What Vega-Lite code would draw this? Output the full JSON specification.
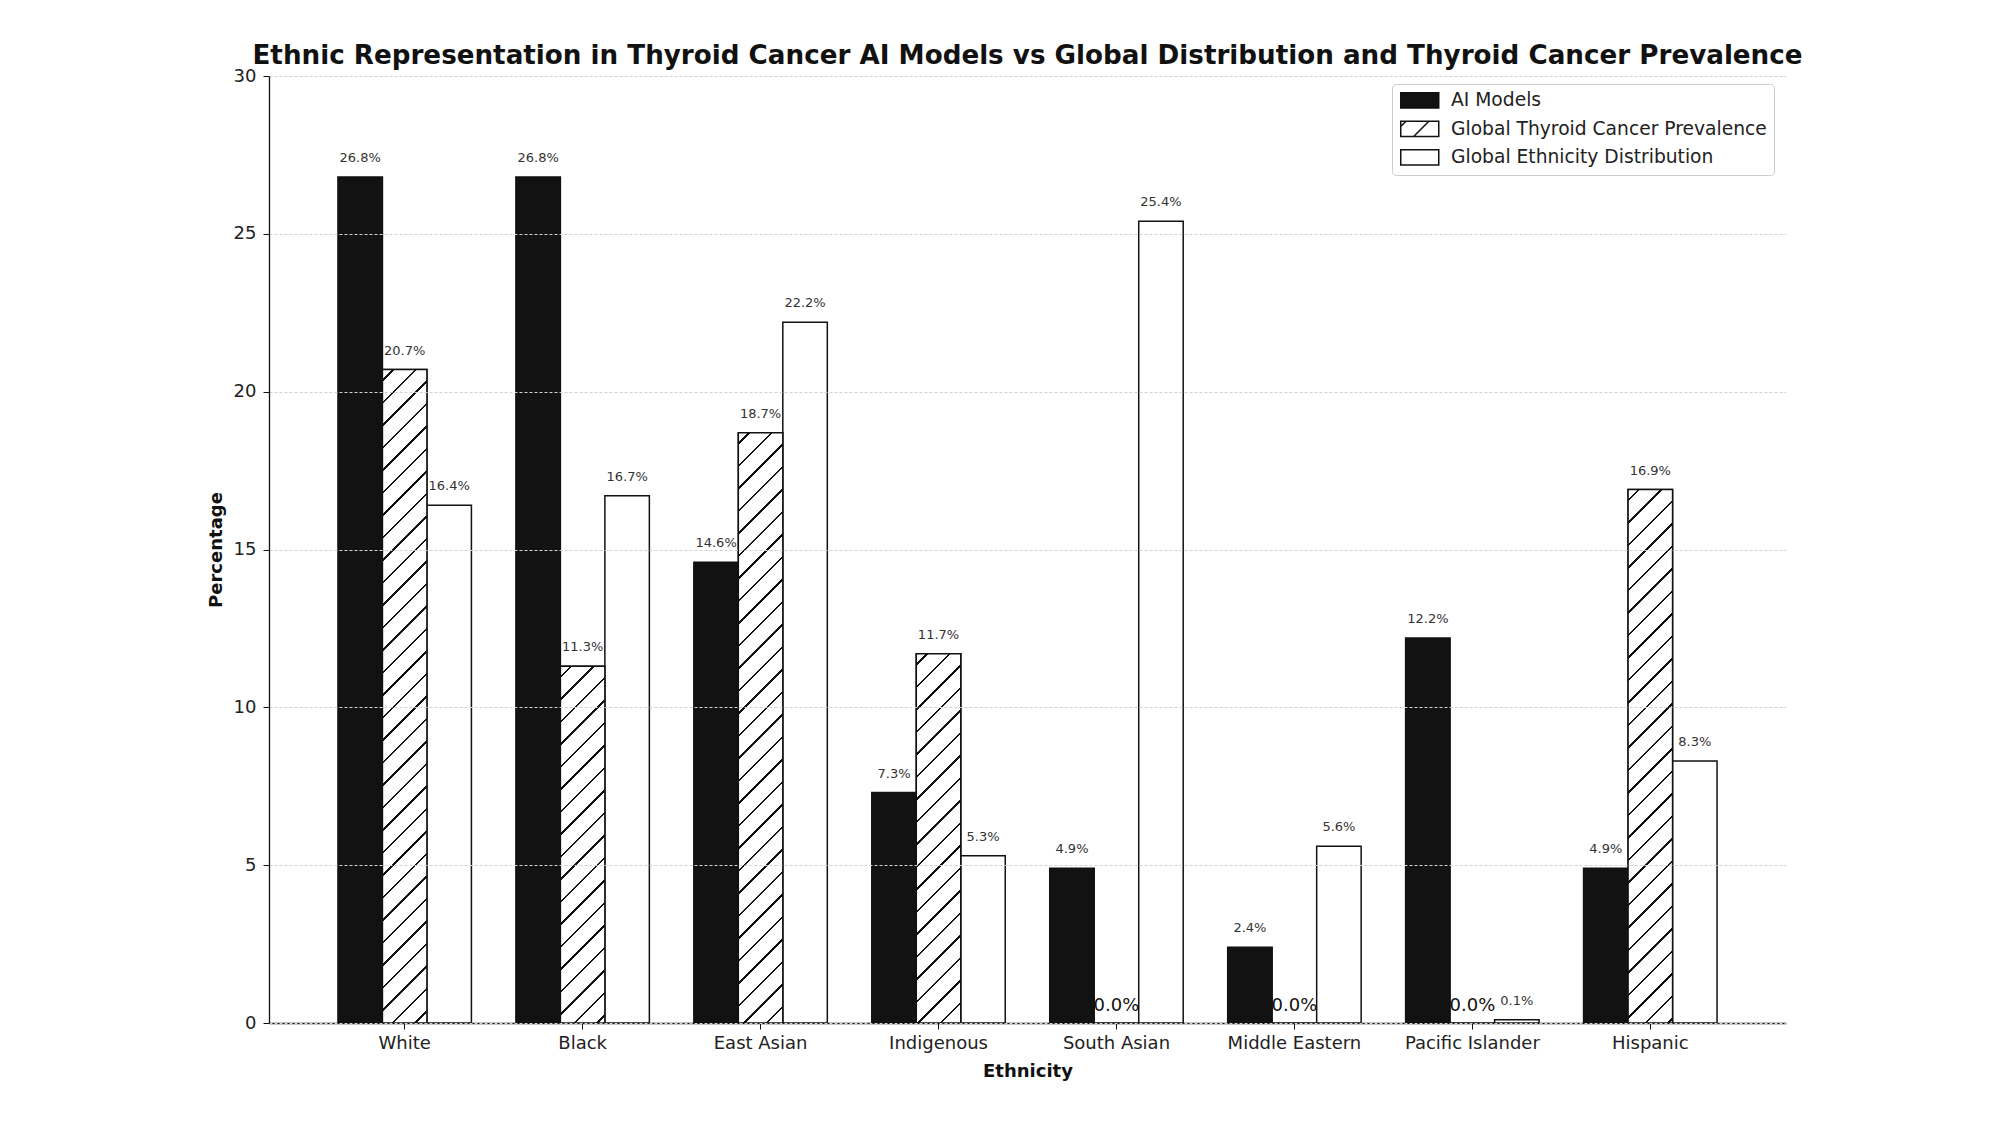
{
  "$schema": "https://vega.github.io/schema/vega-lite/v6.json",
  "width": 1517,
  "height": 947,
  "autosize": {"type": "none"},
  "padding": {"left": 269, "top": 76, "right": 222, "bottom": 100},
  "background": "white",
  "config": {
    "view": {"stroke": null},
    "font": "DejaVu Sans"
  },
  "title": {
    "text": "Ethnic Representation in Thyroid Cancer AI Models vs Global Distribution and Thyroid Cancer Prevalence",
    "fontSize": 26.2,
    "fontWeight": "bold",
    "color": "#111111",
    "anchor": "middle",
    "baseline": "alphabetic",
    "offset": 12,
    "dy": 35
  },
  "params": [
    {
      "name": "hatchStops",
      "value": [
        {"offset": 0, "color": "#ffffff"},
        {"offset": 0.013611, "color": "#ffffff"}, {"offset": 0.013611, "color": "#111111"}, {"offset": 0.016944, "color": "#111111"}, {"offset": 0.016944, "color": "#ffffff"},
        {"offset": 0.044861, "color": "#ffffff"}, {"offset": 0.044861, "color": "#111111"}, {"offset": 0.048194, "color": "#111111"}, {"offset": 0.048194, "color": "#ffffff"},
        {"offset": 0.076111, "color": "#ffffff"}, {"offset": 0.076111, "color": "#111111"}, {"offset": 0.079444, "color": "#111111"}, {"offset": 0.079444, "color": "#ffffff"},
        {"offset": 0.107361, "color": "#ffffff"}, {"offset": 0.107361, "color": "#111111"}, {"offset": 0.110694, "color": "#111111"}, {"offset": 0.110694, "color": "#ffffff"},
        {"offset": 0.138611, "color": "#ffffff"}, {"offset": 0.138611, "color": "#111111"}, {"offset": 0.141944, "color": "#111111"}, {"offset": 0.141944, "color": "#ffffff"},
        {"offset": 0.169861, "color": "#ffffff"}, {"offset": 0.169861, "color": "#111111"}, {"offset": 0.173194, "color": "#111111"}, {"offset": 0.173194, "color": "#ffffff"},
        {"offset": 0.201111, "color": "#ffffff"}, {"offset": 0.201111, "color": "#111111"}, {"offset": 0.204444, "color": "#111111"}, {"offset": 0.204444, "color": "#ffffff"},
        {"offset": 0.232361, "color": "#ffffff"}, {"offset": 0.232361, "color": "#111111"}, {"offset": 0.235694, "color": "#111111"}, {"offset": 0.235694, "color": "#ffffff"},
        {"offset": 0.263611, "color": "#ffffff"}, {"offset": 0.263611, "color": "#111111"}, {"offset": 0.266944, "color": "#111111"}, {"offset": 0.266944, "color": "#ffffff"},
        {"offset": 0.294861, "color": "#ffffff"}, {"offset": 0.294861, "color": "#111111"}, {"offset": 0.298194, "color": "#111111"}, {"offset": 0.298194, "color": "#ffffff"},
        {"offset": 0.326111, "color": "#ffffff"}, {"offset": 0.326111, "color": "#111111"}, {"offset": 0.329444, "color": "#111111"}, {"offset": 0.329444, "color": "#ffffff"},
        {"offset": 0.357361, "color": "#ffffff"}, {"offset": 0.357361, "color": "#111111"}, {"offset": 0.360694, "color": "#111111"}, {"offset": 0.360694, "color": "#ffffff"},
        {"offset": 0.388611, "color": "#ffffff"}, {"offset": 0.388611, "color": "#111111"}, {"offset": 0.391944, "color": "#111111"}, {"offset": 0.391944, "color": "#ffffff"},
        {"offset": 0.419861, "color": "#ffffff"}, {"offset": 0.419861, "color": "#111111"}, {"offset": 0.423194, "color": "#111111"}, {"offset": 0.423194, "color": "#ffffff"},
        {"offset": 0.451111, "color": "#ffffff"}, {"offset": 0.451111, "color": "#111111"}, {"offset": 0.454444, "color": "#111111"}, {"offset": 0.454444, "color": "#ffffff"},
        {"offset": 0.482361, "color": "#ffffff"}, {"offset": 0.482361, "color": "#111111"}, {"offset": 0.485694, "color": "#111111"}, {"offset": 0.485694, "color": "#ffffff"},
        {"offset": 0.513611, "color": "#ffffff"}, {"offset": 0.513611, "color": "#111111"}, {"offset": 0.516944, "color": "#111111"}, {"offset": 0.516944, "color": "#ffffff"},
        {"offset": 0.544861, "color": "#ffffff"}, {"offset": 0.544861, "color": "#111111"}, {"offset": 0.548194, "color": "#111111"}, {"offset": 0.548194, "color": "#ffffff"},
        {"offset": 0.576111, "color": "#ffffff"}, {"offset": 0.576111, "color": "#111111"}, {"offset": 0.579444, "color": "#111111"}, {"offset": 0.579444, "color": "#ffffff"},
        {"offset": 0.607361, "color": "#ffffff"}, {"offset": 0.607361, "color": "#111111"}, {"offset": 0.610694, "color": "#111111"}, {"offset": 0.610694, "color": "#ffffff"},
        {"offset": 0.638611, "color": "#ffffff"}, {"offset": 0.638611, "color": "#111111"}, {"offset": 0.641944, "color": "#111111"}, {"offset": 0.641944, "color": "#ffffff"},
        {"offset": 0.669861, "color": "#ffffff"}, {"offset": 0.669861, "color": "#111111"}, {"offset": 0.673194, "color": "#111111"}, {"offset": 0.673194, "color": "#ffffff"},
        {"offset": 0.701111, "color": "#ffffff"}, {"offset": 0.701111, "color": "#111111"}, {"offset": 0.704444, "color": "#111111"}, {"offset": 0.704444, "color": "#ffffff"},
        {"offset": 0.732361, "color": "#ffffff"}, {"offset": 0.732361, "color": "#111111"}, {"offset": 0.735694, "color": "#111111"}, {"offset": 0.735694, "color": "#ffffff"},
        {"offset": 0.763611, "color": "#ffffff"}, {"offset": 0.763611, "color": "#111111"}, {"offset": 0.766944, "color": "#111111"}, {"offset": 0.766944, "color": "#ffffff"},
        {"offset": 0.794861, "color": "#ffffff"}, {"offset": 0.794861, "color": "#111111"}, {"offset": 0.798194, "color": "#111111"}, {"offset": 0.798194, "color": "#ffffff"},
        {"offset": 0.826111, "color": "#ffffff"}, {"offset": 0.826111, "color": "#111111"}, {"offset": 0.829444, "color": "#111111"}, {"offset": 0.829444, "color": "#ffffff"},
        {"offset": 0.857361, "color": "#ffffff"}, {"offset": 0.857361, "color": "#111111"}, {"offset": 0.860694, "color": "#111111"}, {"offset": 0.860694, "color": "#ffffff"},
        {"offset": 0.888611, "color": "#ffffff"}, {"offset": 0.888611, "color": "#111111"}, {"offset": 0.891944, "color": "#111111"}, {"offset": 0.891944, "color": "#ffffff"},
        {"offset": 0.919861, "color": "#ffffff"}, {"offset": 0.919861, "color": "#111111"}, {"offset": 0.923194, "color": "#111111"}, {"offset": 0.923194, "color": "#ffffff"},
        {"offset": 0.951111, "color": "#ffffff"}, {"offset": 0.951111, "color": "#111111"}, {"offset": 0.954444, "color": "#111111"}, {"offset": 0.954444, "color": "#ffffff"},
        {"offset": 0.982361, "color": "#ffffff"}, {"offset": 0.982361, "color": "#111111"}, {"offset": 0.985694, "color": "#111111"}, {"offset": 0.985694, "color": "#ffffff"},
        {"offset": 1, "color": "#ffffff"}
      ]
    }
  ],
  "data": {
    "values": [
      {"ethnicity": "White", "group": "AI Models", "value": 26.8},
      {"ethnicity": "White", "group": "Global Thyroid Cancer Prevalence", "value": 20.7},
      {"ethnicity": "White", "group": "Global Ethnicity Distribution", "value": 16.4},
      {"ethnicity": "Black", "group": "AI Models", "value": 26.8},
      {"ethnicity": "Black", "group": "Global Thyroid Cancer Prevalence", "value": 11.3},
      {"ethnicity": "Black", "group": "Global Ethnicity Distribution", "value": 16.7},
      {"ethnicity": "East Asian", "group": "AI Models", "value": 14.6},
      {"ethnicity": "East Asian", "group": "Global Thyroid Cancer Prevalence", "value": 18.7},
      {"ethnicity": "East Asian", "group": "Global Ethnicity Distribution", "value": 22.2},
      {"ethnicity": "Indigenous", "group": "AI Models", "value": 7.3},
      {"ethnicity": "Indigenous", "group": "Global Thyroid Cancer Prevalence", "value": 11.7},
      {"ethnicity": "Indigenous", "group": "Global Ethnicity Distribution", "value": 5.3},
      {"ethnicity": "South Asian", "group": "AI Models", "value": 4.9},
      {"ethnicity": "South Asian", "group": "Global Thyroid Cancer Prevalence", "value": 0.0},
      {"ethnicity": "South Asian", "group": "Global Ethnicity Distribution", "value": 25.4},
      {"ethnicity": "Middle Eastern", "group": "AI Models", "value": 2.4},
      {"ethnicity": "Middle Eastern", "group": "Global Thyroid Cancer Prevalence", "value": 0.0},
      {"ethnicity": "Middle Eastern", "group": "Global Ethnicity Distribution", "value": 5.6},
      {"ethnicity": "Pacific Islander", "group": "AI Models", "value": 12.2},
      {"ethnicity": "Pacific Islander", "group": "Global Thyroid Cancer Prevalence", "value": 0.0},
      {"ethnicity": "Pacific Islander", "group": "Global Ethnicity Distribution", "value": 0.1},
      {"ethnicity": "Hispanic", "group": "AI Models", "value": 4.9},
      {"ethnicity": "Hispanic", "group": "Global Thyroid Cancer Prevalence", "value": 16.9},
      {"ethnicity": "Hispanic", "group": "Global Ethnicity Distribution", "value": 8.3}
    ]
  },
  "encoding": {
    "x": {
      "field": "ethnicity",
      "type": "nominal",
      "sort": null,
      "scale": {
        "domain": ["White", "Black", "East Asian", "Indigenous", "South Asian", "Middle Eastern", "Pacific Islander", "Hispanic"],
        "paddingInner": 0.25,
        "paddingOuter": 0.3875
      },
      "axis": {
        "title": "Ethnicity",
        "titleFontSize": 18,
        "titleFontWeight": "bold",
        "titleColor": "#111111",
        "titlePadding": 10,
        "labelAngle": 0,
        "labelFontSize": 18,
        "labelColor": "#222222",
        "labelPadding": 5,
        "tickSize": 6,
        "tickColor": "#111111",
        "domainColor": "#111111",
        "domainWidth": 1.3,
        "grid": false
      }
    },
    "xOffset": {
      "field": "group",
      "type": "nominal",
      "scale": {
        "domain": ["AI Models", "Global Thyroid Cancer Prevalence", "Global Ethnicity Distribution"],
        "paddingInner": 0,
        "paddingOuter": 0
      }
    },
    "y": {
      "field": "value",
      "type": "quantitative",
      "scale": {"domain": [0, 30], "nice": false},
      "axis": {
        "title": "Percentage",
        "titleFontSize": 18,
        "titleFontWeight": "bold",
        "titleColor": "#111111",
        "titlePadding": 8,
        "values": [0, 5, 10, 15, 20, 25, 30],
        "labelFontSize": 18,
        "labelColor": "#222222",
        "labelPadding": 7,
        "tickSize": 6,
        "tickColor": "#111111",
        "domainColor": "#111111",
        "domainWidth": 1.3,
        "grid": true,
        "gridColor": "#d0d0d0",
        "gridDash": [3, 2],
        "gridWidth": 1,
        "zindex": 1
      }
    }
  },
  "layer": [
    {
      "mark": {"type": "bar", "stroke": "#111111", "strokeWidth": 1.5},
      "encoding": {
        "color": {
          "field": "group",
          "type": "nominal",
          "scale": {
            "domain": ["AI Models", "Global Thyroid Cancer Prevalence", "Global Ethnicity Distribution"],
            "range": ["#121212", "#ffffff", "#ffffff"]
          },
          "legend": {
            "title": null,
            "orient": "none",
            "legendX": 1123,
            "legendY": 8,
            "padding": 7,
            "rowPadding": 6.5,
            "labelFontSize": 18.7,
            "labelColor": "#222222",
            "labelLimit": 500,
            "labelOffset": 33.3,
            "symbolType": "M-1,-1H4V1H-1Z",
            "symbolSize": 231,
            "symbolStrokeColor": "#111111",
            "symbolStrokeWidth": 1.5,
            "strokeColor": "#cccccc",
            "fillColor": "#ffffff",
            "cornerRadius": 4,
            "encode": {
              "symbols": {
                "enter": {
                  "shape": {"signal": "datum.index === 1 ? 'M-1,-1H4V1H-1Z M0.7,1L2.7,-1 M-1,-0.3L-0.3,-1' : 'M-1,-1H4V1H-1Z'"}
                },
                "update": {
                  "shape": {"signal": "datum.index === 1 ? 'M-1,-1H4V1H-1Z M0.7,1L2.7,-1 M-1,-0.3L-0.3,-1' : 'M-1,-1H4V1H-1Z'"},
                  "stroke": {"value": "#111111"},
                  "strokeWidth": {"value": 1.5}
                }
              }
            }
          }
        }
      }
    },
    {
      "transform": [
        {"filter": "datum.group === 'Global Thyroid Cancer Prevalence' && datum.value > 0"}
      ],
      "mark": {
        "type": "bar",
        "stroke": "#111111",
        "strokeWidth": 1.5,
        "fill": {"expr": "{gradient: 'linear', x1: 0, y1: 0, x2: 720 * bandwidth('xOffset') / (pow(bandwidth('xOffset'), 2) + pow(scale('y', 0) - scale('y', datum.value), 2)), y2: 720 * (scale('y', 0) - scale('y', datum.value)) / (pow(bandwidth('xOffset'), 2) + pow(scale('y', 0) - scale('y', datum.value), 2)), stops: hatchStops}"}
      },
      "encoding": {}
    },
    {
      "transform": [
        {"calculate": "format(datum.value, '.1f') + '%'", "as": "label"}
      ],
      "mark": {
        "type": "text",
        "baseline": "alphabetic",
        "align": "center",
        "dy": {"expr": "datum.value === 0 ? -12 : -15"}
      },
      "encoding": {
        "text": {"field": "label"},
        "size": {"condition": {"test": "datum.value === 0", "value": 18}, "value": 13},
        "color": {"condition": {"test": "datum.value === 0", "value": "#111111"}, "value": "#333333"}
      }
    }
  ]
}
